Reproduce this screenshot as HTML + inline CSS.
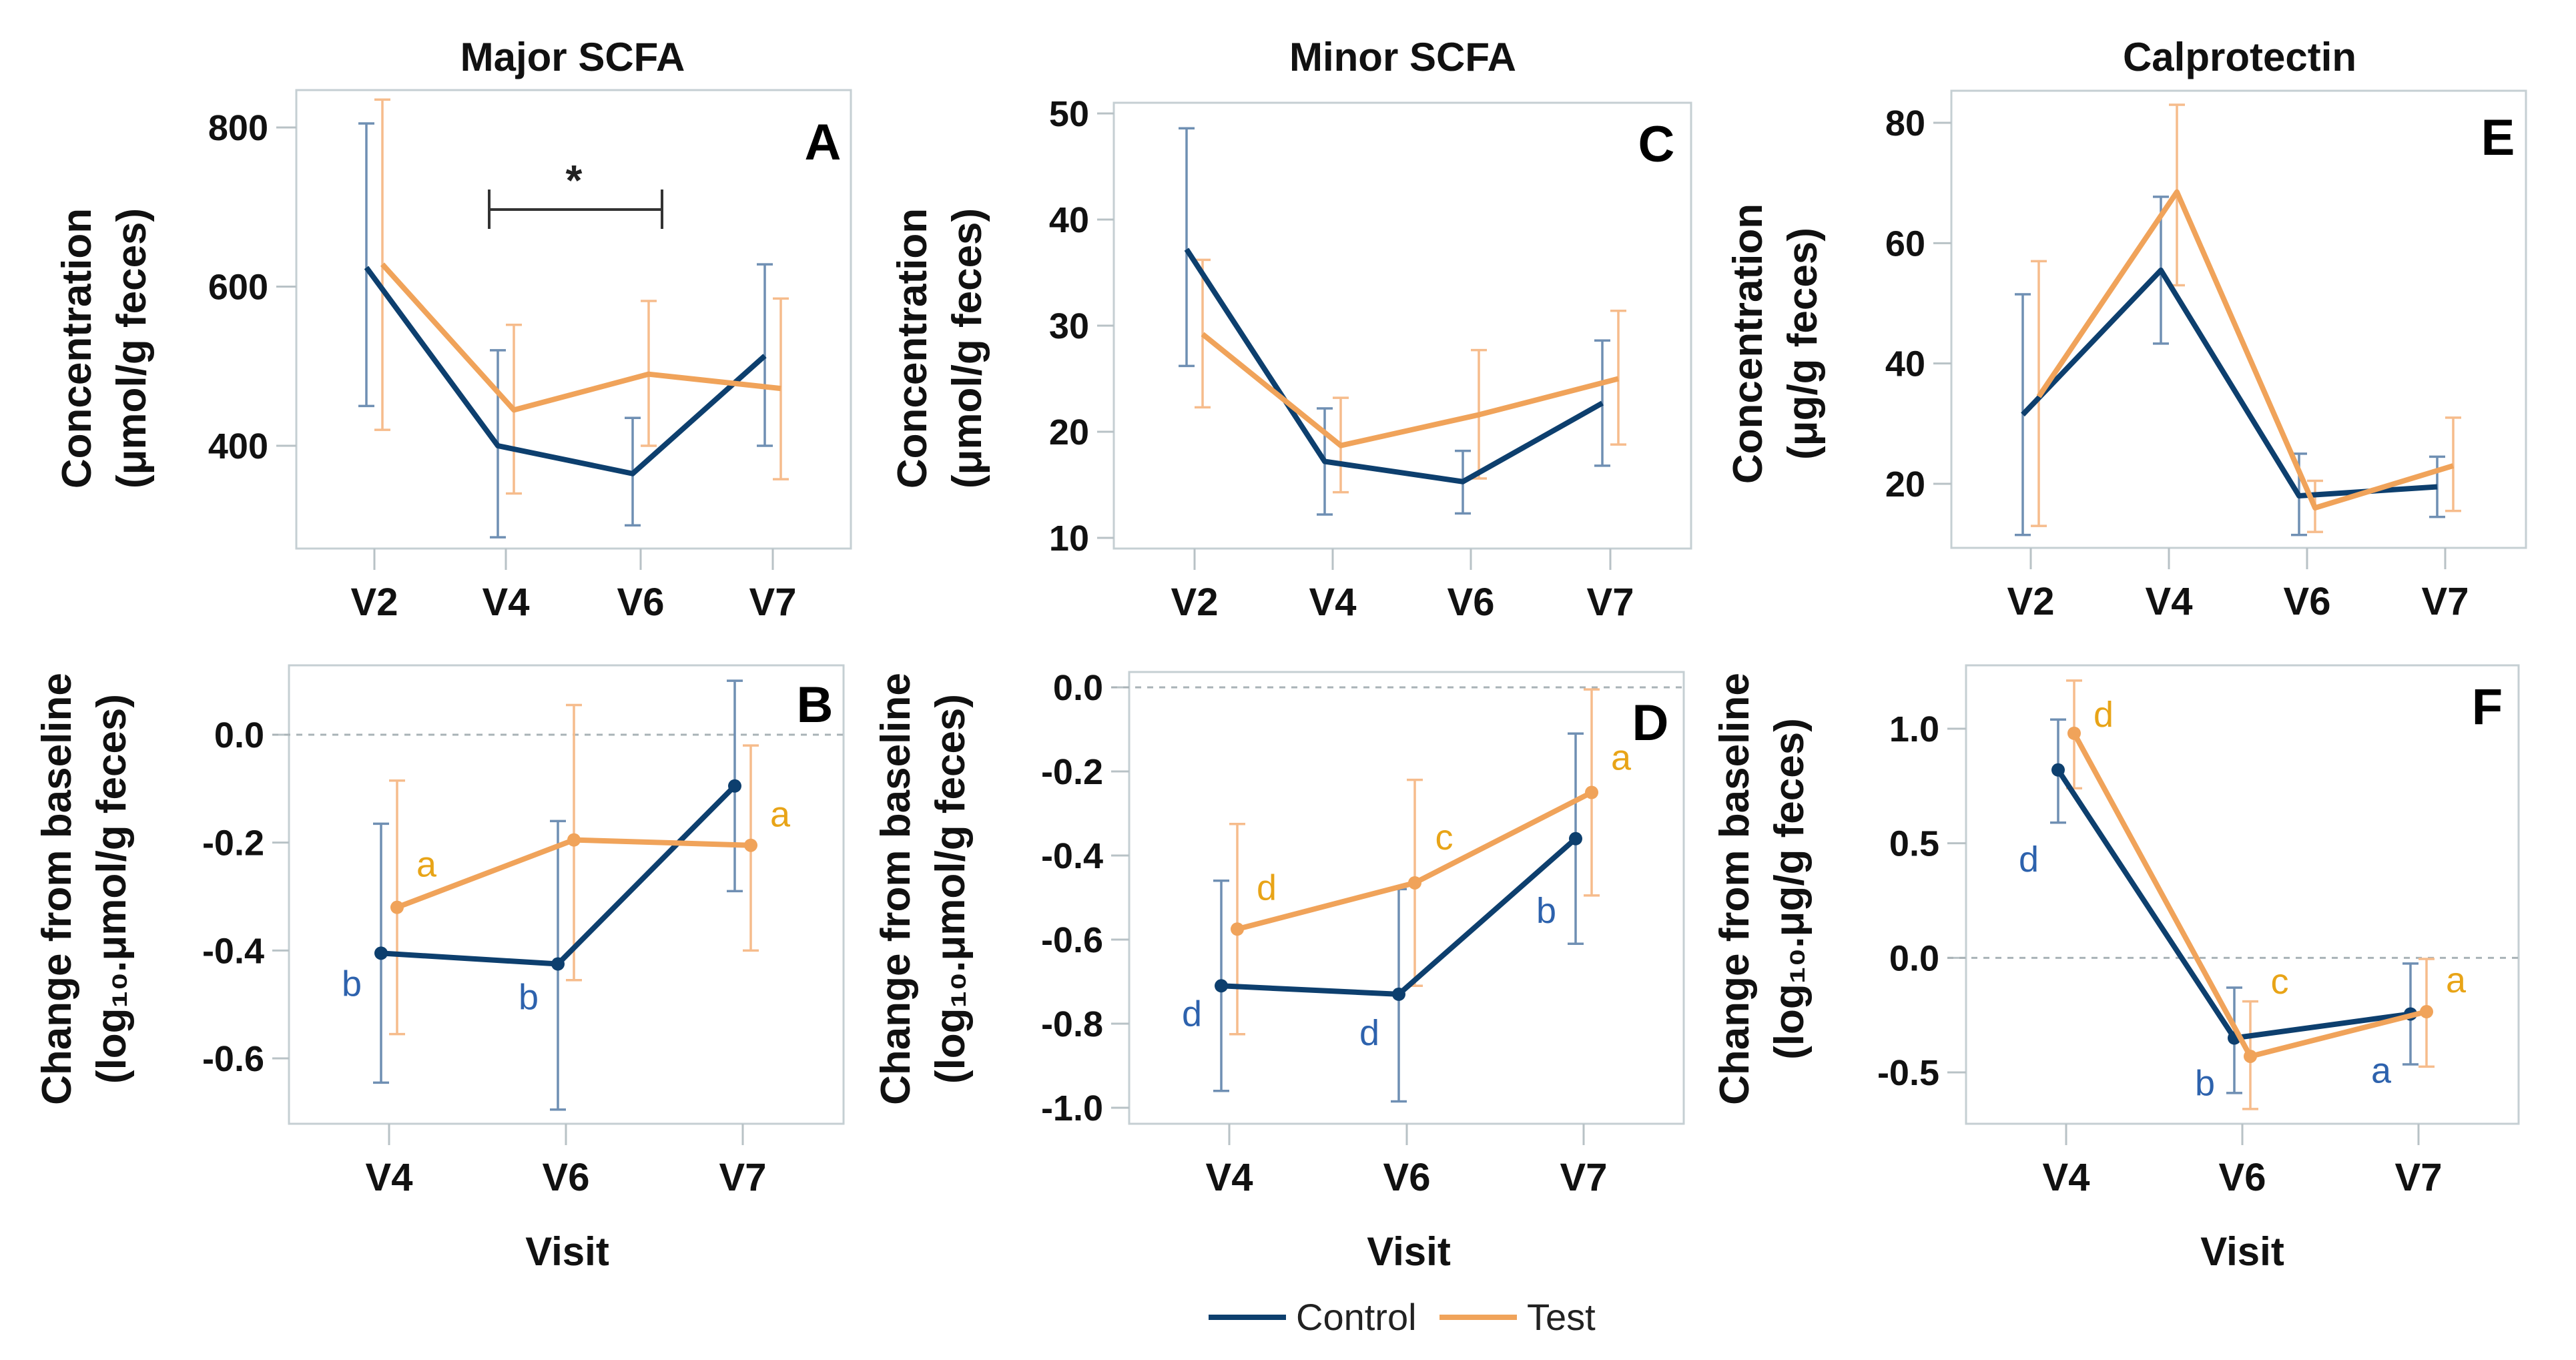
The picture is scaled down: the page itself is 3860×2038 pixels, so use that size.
<!DOCTYPE html>
<html><head><meta charset="utf-8">
<style>
html,body{margin:0;padding:0;background:#fff;}
svg{display:block;font-family:"Liberation Sans",Arial,sans-serif;}
</style></head>
<body>
<svg id="fig" width="3860" height="2038" viewBox="0 0 3860 2038" xmlns="http://www.w3.org/2000/svg">
<rect x="0" y="0" width="3860" height="2038" fill="#fff"/>
</svg>
<script>
// ---------- data ----------
const visitsTop = ["V2","V4","V6","V7"];
const visitsBottom = ["V4","V6","V7"];

const aTicks = [400,600,800];
const aCtrl = [624,400,365,513];
const aCtrlLo = [450,285,300,400];
const aCtrlHi = [805,520,435,628];
const aTest = [628,445,490,472];
const aTestLo = [420,340,400,358];
const aTestHi = [835,552,582,585];

const cTicks = [10,20,30,40,50];
const cCtrl = [37.2,17.2,15.3,22.7];
const cCtrlLo = [26.2,12.2,12.3,16.8];
const cCtrlHi = [48.6,22.2,18.2,28.6];
const cTest = [29.2,18.7,21.6,25.0];
const cTestLo = [22.3,14.3,15.6,18.8];
const cTestHi = [36.2,23.2,27.7,31.4];

const eTicks = [20,40,60,80];
const eCtrl = [31.5,55.5,18.0,19.5];
const eCtrlLo = [11.5,43.3,11.5,14.5];
const eCtrlHi = [51.5,67.7,25.0,24.5];
const eTest = [34.5,68.5,16.0,23.0];
const eTestLo = [13.0,53.0,12.0,15.5];
const eTestHi = [57.0,83.0,20.5,31.0];

const bTicks = [-0.6,-0.4,-0.2,0.0];
const bTickLabels = ["-0.6","-0.4","-0.2","0.0"];
const bCtrl = [-0.405,-0.425,-0.095];
const bCtrlLo = [-0.645,-0.695,-0.29];
const bCtrlHi = [-0.165,-0.16,0.10];
const bTest = [-0.32,-0.195,-0.205];
const bTestLo = [-0.555,-0.455,-0.40];
const bTestHi = [-0.085,0.055,-0.02];
const bCtrlLetters = ["b","b",""];
const bTestLetters = ["a","","a"];

const dTicks = [-1.0,-0.8,-0.6,-0.4,-0.2,0.0];
const dTickLabels = ["-1.0","-0.8","-0.6","-0.4","-0.2","0.0"];
const dCtrl = [-0.71,-0.73,-0.36];
const dCtrlLo = [-0.96,-0.985,-0.61];
const dCtrlHi = [-0.46,-0.48,-0.11];
const dTest = [-0.575,-0.465,-0.25];
const dTestLo = [-0.825,-0.71,-0.495];
const dTestHi = [-0.325,-0.22,-0.005];
const dCtrlLetters = ["d","d","b"];
const dTestLetters = ["d","c","a"];

const fTicks = [-0.5,0.0,0.5,1.0];
const fTickLabels = ["-0.5","0.0","0.5","1.0"];
const fCtrl = [0.82,-0.35,-0.245];
const fCtrlLo = [0.59,-0.59,-0.465];
const fCtrlHi = [1.04,-0.13,-0.025];
const fTest = [0.98,-0.43,-0.235];
const fTestLo = [0.74,-0.66,-0.475];
const fTestHi = [1.21,-0.19,-0.005];
const fCtrlLetters = ["d","b","a"];
const fTestLetters = ["d","c","a"];

// ---------- drawing ----------
const NS = "http://www.w3.org/2000/svg";
const svg = document.getElementById("fig");
const CTRL = "#0d3f6e", TEST = "#f0a35a", CTRL_E = "#6f8fb3", TEST_E = "#f6bc8c";
const CTRL_T = "#2d62ad", TEST_T = "#e8a417";

function mk(tag, attrs, parent){
  const el = document.createElementNS(NS, tag);
  for (const k in attrs) el.setAttribute(k, attrs[k]);
  (parent||svg).appendChild(el);
  return el;
}
function txt(s, attrs, parent){
  const t = mk("text", attrs, parent);
  t.textContent = s;
  return t;
}

function panel(p){
  const g = mk("g", {});
  
  
  const ys = v => p.y0 + (v - p.v0) * (p.y1 - p.y0) / (p.v1 - p.v0);
  const xs = i => p.xPos[i];
  const fr = mk("rect", {x:p.L, y:p.T, width:p.R-p.L, height:p.B-p.T, fill:"none", stroke:"#c5cfd3", "stroke-width":3}, g);
  
  
  p.ticks.forEach((t,i)=>{
    const y = ys(t);
    const tk = mk("line", {x1:p.tickX, x2:p.L, y1:y, y2:y, stroke:"#b8c2c6", "stroke-width":3}, g);
    
    
    const lb = txt(p.tickLabels ? p.tickLabels[i] : String(t), {x:p.tickX-12, y:y+19, "text-anchor":"end", "font-size":54, "font-weight":"bold", fill:"#111"}, g);
    
    
  });
  if (p.zero){
    const z = mk("line", {x1:p.tickX, x2:p.R, y1:ys(0), y2:ys(0), stroke:"#a9b3b7", "stroke-width":3, "stroke-dasharray":"9 9"}, g);
    
    
  }
  p.cats.forEach((c,i)=>{
    const x = xs(i);
    const tk = mk("line", {x1:x, x2:x, y1:p.B, y2:p.B+32, stroke:"#b8c2c6", "stroke-width":3}, g);
    
    
    const lb = txt(c, {x:x, y:p.B+100, "text-anchor":"middle", "font-size":58, "font-weight":"bold", fill:"#111"}, g);
    
    
  });
  const series = [
    {v:p.ctrl, lo:p.ctrlLo, hi:p.ctrlHi, col:CTRL, ecol:CTRL_E, dx:-12, name:"control", letters:p.ctrlLetters, tcol:CTRL_T, ldx:-44, ldy:p.ctrlLdy},
    {v:p.test, lo:p.testLo, hi:p.testHi, col:TEST, ecol:TEST_E, dx:12, name:"test", letters:p.testLetters, tcol:TEST_T, ldx:44, ldy:p.testLdy}
  ];
  series.forEach(s=>{
    s.v.forEach((v,i)=>{
      const x = xs(i)+s.dx;
      const eb = mk("g", {}, g);
      
      
      mk("line", {x1:x, x2:x, y1:ys(s.lo[i]), y2:ys(s.hi[i]), stroke:s.ecol, "stroke-width":3.5}, eb);
      mk("line", {x1:x-12, x2:x+12, y1:ys(s.lo[i]), y2:ys(s.lo[i]), stroke:s.ecol, "stroke-width":3.5}, eb);
      mk("line", {x1:x-12, x2:x+12, y1:ys(s.hi[i]), y2:ys(s.hi[i]), stroke:s.ecol, "stroke-width":3.5}, eb);
    });
  });
  series.forEach(s=>{
    const pts = s.v.map((v,i)=>(xs(i)+s.dx)+","+ys(v)).join(" ");
    const pl = mk("polyline", {points:pts, fill:"none", stroke:s.col, "stroke-width":8, "stroke-linejoin":"round"}, g);
    
    
    if (p.markers){
      s.v.forEach((v,i)=>{
        const c = mk("circle", {cx:xs(i)+s.dx, cy:ys(v), r:10, fill:s.col}, g);
        
        
      });
    }
    if (s.letters){
      s.letters.forEach((l,i)=>{
        if (!l) return;
        const t = txt(l, {x:xs(i)+s.dx+s.ldx, y:ys(s.v[i])+s.ldy[i]+18, "text-anchor":"middle", "font-size":54, fill:s.tcol}, g);
        
        
      });
    }
  });
  const pl = txt(p.letter, {x:p.letterX, y:p.letterY+27, "text-anchor":"middle", "font-size":76, "font-weight":"bold", fill:"#000"}, g);
  
  
  const yl = mk("text", {transform:`translate(${p.ylX},${p.ylY}) rotate(-90)`, "text-anchor":"middle", "font-size":62, "font-weight":"bold", fill:"#111"}, g);
  
  
  const t1 = mk("tspan", {x:0, y:0}, yl); t1.textContent = p.yl1;
  const t2 = mk("tspan", {x:0, dy:82}, yl); t2.textContent = p.yl2;
  return {g, ys, xs};
}

const topCommon = {cats:visitsTop, markers:false};
const botCommon = {cats:visitsBottom, markers:true, zero:true};

const A = panel(Object.assign({}, topCommon, {name:"panel-a-major-scfa", L:444,R:1275,T:135,B:822, v0:800,y0:191, v1:400,y1:668, tickX:414,
  ticks:aTicks, xPos:[561,758,960,1158], ctrl:aCtrl, ctrlLo:aCtrlLo, ctrlHi:aCtrlHi, test:aTest, testLo:aTestLo, testHi:aTestHi,
  letter:"A", letterX:1233, letterY:212, ylX:136, ylY:522, yl1:"Concentration", yl2:"(μmol/g feces)"}));
const C = panel(Object.assign({}, topCommon, {name:"panel-c-minor-scfa", L:1669,R:2534,T:154,B:822, v0:50,y0:170, v1:10,y1:806, tickX:1644,
  ticks:cTicks, xPos:[1790,1997,2204,2413], ctrl:cCtrl, ctrlLo:cCtrlLo, ctrlHi:cCtrlHi, test:cTest, testLo:cTestLo, testHi:cTestHi,
  letter:"C", letterX:2482, letterY:215, ylX:1388, ylY:522, yl1:"Concentration", yl2:"(μmol/g feces)"}));
const E = panel(Object.assign({}, topCommon, {name:"panel-e-calprotectin", L:2924,R:3785,T:136,B:821, v0:80,y0:184, v1:20,y1:725, tickX:2897,
  ticks:eTicks, xPos:[3043,3250,3457,3664], ctrl:eCtrl, ctrlLo:eCtrlLo, ctrlHi:eCtrlHi, test:eTest, testLo:eTestLo, testHi:eTestHi,
  letter:"E", letterX:3743, letterY:205, ylX:2640, ylY:515, yl1:"Concentration", yl2:"(μg/g feces)"}));

const B = panel(Object.assign({}, botCommon, {name:"panel-b-major-scfa-change", L:433,R:1264,T:997,B:1684, v0:0,y0:1101, v1:-0.6,y1:1586, tickX:408,
  ticks:bTicks, tickLabels:bTickLabels, xPos:[583,848,1113], ctrl:bCtrl, ctrlLo:bCtrlLo, ctrlHi:bCtrlHi, test:bTest, testLo:bTestLo, testHi:bTestHi,
  ctrlLetters:bCtrlLetters, testLetters:bTestLetters, ctrlLdy:[46,50,0], testLdy:[-64,0,-46],
  letter:"B", letterX:1221, letterY:1055, ylX:106, ylY:1332, yl1:"Change from baseline", yl2:"(log₁₀.μmol/g feces)"}));
const D = panel(Object.assign({}, botCommon, {name:"panel-d-minor-scfa-change", L:1692,R:2523,T:1007,B:1684, v0:0,y0:1030, v1:-1.0,y1:1660, tickX:1665,
  ticks:dTicks, tickLabels:dTickLabels, xPos:[1842,2108,2373], ctrl:dCtrl, ctrlLo:dCtrlLo, ctrlHi:dCtrlHi, test:dTest, testLo:dTestLo, testHi:dTestHi,
  ctrlLetters:dCtrlLetters, testLetters:dTestLetters, ctrlLdy:[42,58,108], testLdy:[-62,-68,-52],
  letter:"D", letterX:2473, letterY:1082, ylX:1363, ylY:1332, yl1:"Change from baseline", yl2:"(log₁₀.μmol/g feces)"}));
const F = panel(Object.assign({}, botCommon, {name:"panel-f-calprotectin-change", L:2946,R:3774,T:997,B:1684, v0:1.0,y0:1092, v1:-0.5,y1:1607, tickX:2918,
  ticks:fTicks, tickLabels:fTickLabels, xPos:[3096,3360,3624], ctrl:fCtrl, ctrlLo:fCtrlLo, ctrlHi:fCtrlHi, test:fTest, testLo:fTestLo, testHi:fTestHi,
  ctrlLetters:fCtrlLetters, testLetters:fTestLetters, ctrlLdy:[134,68,85], testLdy:[-28,-112,-47],
  letter:"F", letterX:3727, letterY:1058, ylX:2620, ylY:1332, yl1:"Change from baseline", yl2:"(log₁₀.μg/g feces)"}));

const br = mk("g", {});


mk("line", {x1:733, x2:992, y1:314, y2:314, stroke:"#333", "stroke-width":4}, br);
mk("line", {x1:733, x2:733, y1:284, y2:343, stroke:"#333", "stroke-width":4}, br);
mk("line", {x1:992, x2:992, y1:284, y2:343, stroke:"#333", "stroke-width":4}, br);
txt("*", {x:860, y:292, "text-anchor":"middle", "font-size":64, "font-weight":"bold", fill:"#222"}, br);

[["Major SCFA",858],["Minor SCFA",2102],["Calprotectin",3356]].forEach(([s,x])=>{
  const t = txt(s, {x:x, y:106, "text-anchor":"middle", "font-size":60, "font-weight":"bold", fill:"#111"});
  
  
});
[850,2111,3360].forEach(x=>{
  const t = txt("Visit", {x:x, y:1896, "text-anchor":"middle", "font-size":60, "font-weight":"bold", fill:"#111"});
  
  
});
const lg = mk("g", {});


const l1 = mk("g", {}, lg);


mk("line", {x1:1811, x2:1927, y1:1974, y2:1974, stroke:CTRL, "stroke-width":8}, l1);
txt("Control", {x:1942, y:1993, "font-size":56, fill:"#222"}, l1);
const l2 = mk("g", {}, lg);


mk("line", {x1:2157, x2:2273, y1:1974, y2:1974, stroke:TEST, "stroke-width":8}, l2);
txt("Test", {x:2288, y:1993, "font-size":56, fill:"#222"}, l2);
</script>
</body></html>
